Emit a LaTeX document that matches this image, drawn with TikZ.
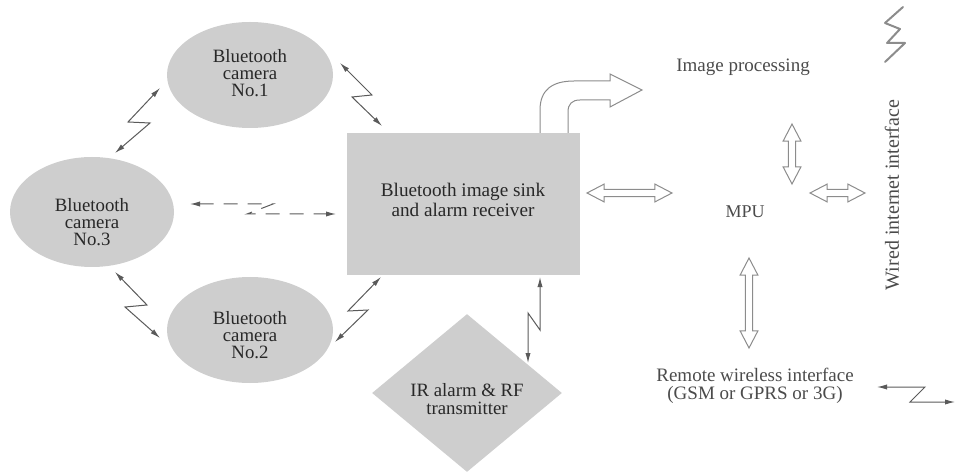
\documentclass[tikz,border=0pt]{standalone}
\usepackage{fontspec}
\setmainfont{Liberation Serif}
\usetikzlibrary{shapes.geometric,shapes.arrows,arrows.meta}
\definecolor{fillg}{RGB}{206,206,206}
\definecolor{intext}{RGB}{40,40,40}
\definecolor{outtext}{RGB}{75,75,75}
\definecolor{linec}{RGB}{90,90,90}
\definecolor{hollowc}{RGB}{140,140,140}
\begin{document}
\begin{tikzpicture}[x=0.5pt,y=-0.5pt,
  blob/.style={fill=fillg,draw=none,inner sep=0pt},
  cam/.style={blob,ellipse,minimum width=83pt,minimum height=53pt},
  intxt/.style={text=intext,align=center,font=\fontsize{9.4}{8.6}\selectfont},
  outtxt/.style={text=outtext,align=center,font=\fontsize{9.5}{9}\selectfont},
  zap/.style={draw=linec,line width=0.5pt,{Latex[length=5pt,width=2.6pt]}-{Latex[length=5pt,width=2.6pt]}},
  hollow/.style={double arrow,draw=hollowc,fill=white,line width=0.5pt,inner xsep=0pt,inner ysep=1.6pt,
    double arrow head extend=2.6pt,double arrow tip angle=55,double arrow head indent=0pt},
]
\useasboundingbox (0,0) rectangle (956,475);

% shapes
\node[cam] (cam1) at (250,75) {};
\node[cam,minimum width=82pt,minimum height=55pt] (cam3) at (92,212) {};
\node[cam] (cam2) at (250,330) {};
\node[blob,rectangle,minimum width=116.5pt,minimum height=71pt] (sink) at (463.5,204) {};
\node[blob,diamond,minimum width=95pt,minimum height=79pt] (ir) at (467,393) {};

% texts
\node[intxt] (cam1t) at (250,73) {Bluetooth\\camera\\No.1};
\node[intxt] (cam3t) at (92,222) {Bluetooth\\camera\\No.3};
\node[intxt] (cam2t) at (250,335) {Bluetooth\\camera\\No.2};
\node[intxt,font=\fontsize{9.6}{8}\selectfont] (sinkt) at (463,200) {Bluetooth image sink\\and alarm receiver};
\node[intxt,font=\fontsize{9.4}{9}\selectfont] (irt) at (467,399) {IR alarm \& RF\\transmitter};
\node[outtxt] (imgp) at (743,67) {Image processing};
\node[outtxt,font=\fontsize{9}{9}\selectfont] (mpu) at (745,212) {MPU};
\node[outtxt] (remote) at (755,386) {Remote wireless interface\\(GSM or GPRS or 3G)};
\node[outtxt,rotate=90,font=\fontsize{10}{10}\selectfont] (wired) at (892,195) {Wired internet interface};

% hollow double arrows
\node[hollow,minimum height=42.5pt] (h1) at (629.5,193) {};
\node[hollow,minimum height=30pt,rotate=90] (h2) at (792,154) {};
\node[hollow,minimum height=27.5pt] (h3) at (837.5,193) {};
\node[hollow,minimum height=45pt,rotate=90] (h4) at (749,303) {};

% curved hollow arrow from sink to image processing
\coordinate (cvA) at (540,133);
\coordinate (cvB) at (568,133);
\draw[draw=hollowc,fill=white,line width=0.5pt]
  (cvA) -- (540,110) .. controls (540,90) and (552,81) .. (574,81)
  -- (610,81) -- (610,74) -- (642,90) -- (610,107) -- (610,100)
  -- (580,100) .. controls (572,100) and (568,104) .. (568,112) -- (cvB);

% wireless links
\coordinate (l1a) at (340,63);  \coordinate (l1b) at (382,126);
\draw[zap] (l1a) -- (372,95) -- (352,97) -- (l1b);
\coordinate (l2a) at (160,88);  \coordinate (l2b) at (115,153);
\draw[zap] (l2a) -- (128,122) -- (150,123) -- (l2b);
\coordinate (l3a) at (115,272); \coordinate (l3b) at (160,338);
\draw[zap] (l3a) -- (147,305) -- (125,307) -- (l3b);
\coordinate (l4a) at (335,342); \coordinate (l4b) at (381,277);
\draw[zap] (l4a) -- (368,310) -- (348,311) -- (l4b);
\coordinate (l5a) at (540,277); \coordinate (l5b) at (528,363);
\draw[zap] (l5a) -- (540,330) -- (528,313) -- (l5b);
\coordinate (l6a) at (877,387); \coordinate (l6b) at (955,402);
\draw[zap] (l6a) -- (925,387) -- (910,402) -- (l6b);
\coordinate (l7a) at (190,204); \coordinate (l7b) at (336,214);
\draw[zap,dashed,dash pattern=on 7pt off 5pt] (l7a) -- (273,204) -- (247,214) -- (l7b);

% squiggle for wired line
\draw[draw=hollowc,line width=1pt,line join=round,line cap=round]
  (903,7) -- (885,23) -- (900,29) -- (887,43) -- (905,43) -- (885,62);
\end{tikzpicture}
\end{document}
